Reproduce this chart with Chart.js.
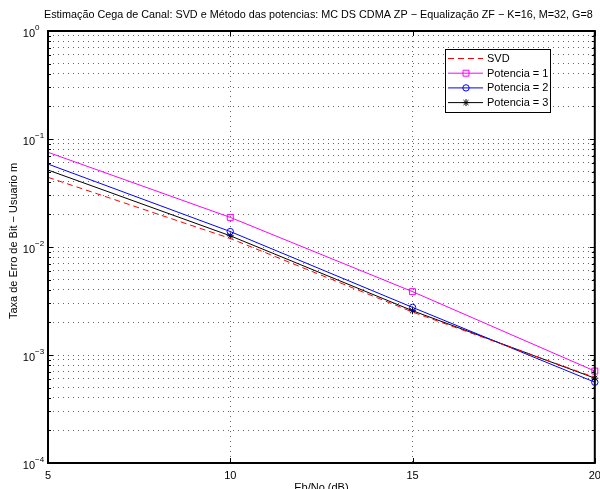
<!DOCTYPE html>
<html>
<head>
<meta charset="utf-8">
<script src="https://cdn.jsdelivr.net/npm/chart.js@4/dist/chart.umd.min.js"></script>
<style>
  html, body { margin: 0; padding: 0; background: #fff; }
</style>
</head>
<body>
<canvas id="chart" width="600" height="489"></canvas>
<script>
// dados
const snr = [5, 10, 15, 20];
const svd = [0.0442, 0.0120, 0.00250, 0.00062];
const pot1 = [0.0753, 0.0188, 0.00386, 0.00071];
const pot2 = [0.0586, 0.0139, 0.00276, 0.00056];
const pot3 = [0.0516, 0.0127, 0.00257, 0.00061];
const seriesNames = ['SVD', 'Potencia = 1', 'Potencia = 2', 'Potencia = 3'];
const xTicks = [5, 10, 15, 20];
const yDecades = [-4, -3, -2, -1, 0];

const FONT = '"Liberation Sans", Arial, Helvetica, sans-serif';

// grade logarítmica: 1..9 x 10^k
const yTickVals = [];
yDecades.forEach((k, i) => {
  if (i === yDecades.length - 1) { yTickVals.push(Math.pow(10, k)); return; }
  for (let m = 1; m <= 9; m++) yTickVals.push(m * Math.pow(10, k));
});

const toPts = ys => snr.map((x, i) => ({ x, y: ys[i] }));
const hideFirst = r => ctx => (ctx.dataIndex === 0 ? 0 : r);

const datasets = [
  { label: seriesNames[0], data: toPts(svd), borderColor: '#ff0000', borderDash: [6, 4],
    pointRadius: 0, pointStyle: false },
  { label: seriesNames[1], data: toPts(pot1), borderColor: '#ff00ff', pointStyle: 'rect',
    pointRadius: hideFirst(4.2) },
  { label: seriesNames[2], data: toPts(pot2), borderColor: '#0000ff', pointStyle: 'circle',
    pointRadius: hideFirst(3.2) },
  { label: seriesNames[3], data: toPts(pot3), borderColor: '#000000', pointStyle: 'star',
    pointRadius: hideFirst(3.5) },
].map(d => Object.assign({
  borderWidth: 1,
  pointBorderWidth: 1,
  pointBorderColor: d.borderColor,
  pointBackgroundColor: 'rgba(0,0,0,0)',
  tension: 0,
  clip: false,
}, d));

// eixos estilo MATLAB: caixa, ticks internos, rótulos e legenda
const matlabAxes = {
  id: 'matlabAxes',
  afterDatasetsDraw(chart) {
    const { ctx, chartArea: a, scales: { x, y } } = chart;
    ctx.save();
    ctx.strokeStyle = '#000';
    ctx.lineWidth = 1;

    // ticks internos
    ctx.beginPath();
    xTicks.forEach(v => {
      const px = Math.round(x.getPixelForValue(v)) + 0.5;
      ctx.moveTo(px, a.bottom); ctx.lineTo(px, a.bottom - 5);
      ctx.moveTo(px, a.top); ctx.lineTo(px, a.top + 5);
    });
    yTickVals.forEach(v => {
      const py = Math.round(y.getPixelForValue(v)) + 0.5;
      const major = Math.abs(Math.log10(v) - Math.round(Math.log10(v))) < 1e-9;
      const len = major ? 5 : 3;
      ctx.moveTo(a.left, py); ctx.lineTo(a.left + len, py);
      ctx.moveTo(a.right, py); ctx.lineTo(a.right - len, py);
    });
    ctx.stroke();

    // caixa
    ctx.lineWidth = 2;
    ctx.strokeRect(a.left, a.top, a.right - a.left, a.bottom - a.top);

    // rótulos do eixo x
    ctx.fillStyle = '#000';
    ctx.font = '11px ' + FONT;
    ctx.textAlign = 'center';
    ctx.textBaseline = 'middle';
    xTicks.forEach(v => ctx.fillText(String(v), x.getPixelForValue(v), a.bottom + 13));

    // rótulos do eixo y (10^k)
    yDecades.forEach(k => {
      const py = y.getPixelForValue(Math.pow(10, k));
      ctx.font = '11px ' + FONT;
      ctx.textAlign = 'right';
      ctx.textBaseline = 'middle';
      ctx.fillText('10', 35, py + 3);
      ctx.font = '8px ' + FONT;
      ctx.textAlign = 'left';
      ctx.fillText(k === 0 ? '0' : '\u2212' + Math.abs(k), 35, py - 3);
    });

    // títulos
    ctx.font = '10.8px ' + FONT;
    ctx.textAlign = 'center';
    ctx.textBaseline = 'middle';
    ctx.fillText('Estimação Cega de Canal: SVD e Método das potencias: MC DS CDMA ZP \u2212 Equalização ZF \u2212 K=16, M=32, G=8',
      (a.left + a.right) / 2 - 3, 15);
    ctx.font = '11px ' + FONT;
    ctx.fillText('Eb/No (dB)', (a.left + a.right) / 2, a.bottom + 25);
    ctx.save();
    ctx.translate(14, (a.top + a.bottom) / 2 - 6);
    ctx.rotate(-Math.PI / 2);
    ctx.fillText('Taxa de Erro de Bit \u2212 Usuario m', 0, 0);
    ctx.restore();

    // legenda
    const lx = 445, ly = 49, lw = 105, lh = 63;
    ctx.fillStyle = '#fff';
    ctx.fillRect(lx, ly, lw, lh);
    ctx.lineWidth = 1;
    ctx.strokeStyle = '#000';
    ctx.strokeRect(lx + 0.5, ly + 0.5, lw, lh);
    chart.data.datasets.forEach((ds, i) => {
      const ry = ly + 9.5 + i * 14.7;
      ctx.save();
      ctx.strokeStyle = ds.borderColor;
      ctx.lineWidth = 1;
      ctx.setLineDash(ds.borderDash || []);
      ctx.beginPath();
      ctx.moveTo(lx + 3, ry); ctx.lineTo(lx + 38, ry);
      ctx.stroke();
      ctx.setLineDash([]);
      if (ds.pointStyle) {
        const r = typeof ds.pointRadius === 'function' ? ds.pointRadius({ dataIndex: 1 }) : ds.pointRadius;
        ctx.fillStyle = 'rgba(0,0,0,0)';
        Chart.helpers.drawPoint(ctx, { pointStyle: ds.pointStyle, radius: r, rotation: 0, borderWidth: 1 }, lx + 21, ry);
      }
      ctx.restore();
      ctx.fillStyle = '#000';
      ctx.font = '11px ' + FONT;
      ctx.textAlign = 'left';
      ctx.textBaseline = 'middle';
      ctx.fillText(ds.label, lx + 42, ry + 0.5);
    });
    ctx.restore();
  }
};

const gridOpts = { color: 'rgba(0,0,0,0.6)', lineWidth: 1, drawTicks: false };

new Chart(document.getElementById('chart'), {
  type: 'line',
  data: { datasets },
  plugins: [matlabAxes],
  options: {
    responsive: false,
    animation: false,
    layout: { padding: { left: 48, right: 4, top: 31, bottom: 26 } },
    plugins: { legend: { display: false }, title: { display: false }, tooltip: { enabled: false } },
    scales: {
      x: {
        type: 'linear', min: 5, max: 20,
        ticks: { display: false, stepSize: 5 },
        grid: gridOpts,
        border: { display: false, dash: [1, 4] },
      },
      y: {
        type: 'logarithmic', min: 1e-4, max: 1,
        afterBuildTicks: s => { s.ticks = yTickVals.map(v => ({ value: v })); },
        ticks: { display: false },
        grid: gridOpts,
        border: { display: false, dash: [1, 4] },
      }
    }
  }
});
</script>
</body>
</html>
